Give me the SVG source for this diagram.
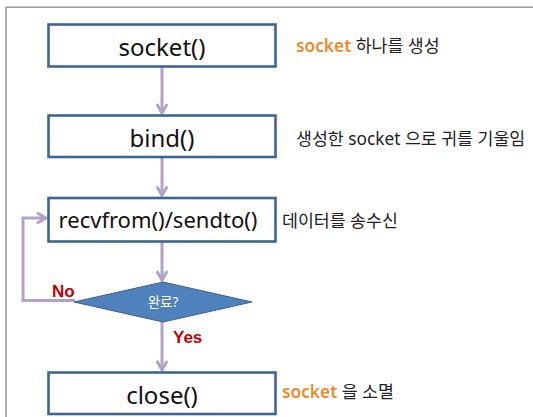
<svg xmlns="http://www.w3.org/2000/svg" width="533" height="417" viewBox="0 0 533 417">
<style>
.frame{fill:none;stroke:#9a9a9a;stroke-width:1.6}
.box{fill:#fff;stroke:#3f6594;stroke-width:2.6}
.btxt{font-family:"Noto Sans","Noto Sans CJK KR",sans-serif;font-size:24px;fill:#111;text-anchor:middle}
.lbl{font-family:"Noto Sans","Noto Sans CJK KR",sans-serif;font-size:17.3px;fill:#222}
.or{fill:#ec8a2c;font-weight:600}
.yn{font-family:"Liberation Sans",Arial,sans-serif;font-size:17px;font-weight:bold;fill:#c00000}
.con{fill:none;stroke:#b3a2c7;stroke-width:3}
.dia{fill:#4f81bd;stroke:#3a6290;stroke-width:1}
.dtxt{font-family:"Noto Sans","Noto Sans CJK KR",sans-serif;font-size:13.5px;fill:#fff;text-anchor:middle}
</style>
<defs>
<marker id="arr" viewBox="0 0 12 12" refX="10" refY="6" markerWidth="12" markerHeight="12" markerUnits="userSpaceOnUse" orient="auto">
<path d="M1,0.8 L10,6 L1,11.2" fill="none" stroke="#b3a2c7" stroke-width="3"/>
</marker>
</defs>
<rect width="533" height="417" fill="#fff"/>
<path class="frame" d="M6,420 V7.3 H540"/>
<g id="connectors">
<line class="con" x1="162" y1="67" x2="162" y2="113" marker-end="url(#arr)"/>
<line class="con" x1="162" y1="157" x2="162" y2="195.5" marker-end="url(#arr)"/>
<line class="con" x1="162" y1="242" x2="162" y2="280" marker-end="url(#arr)"/>
<line class="con" x1="162" y1="322" x2="162" y2="370" marker-end="url(#arr)"/>
<path class="con" d="M75,300.5 H23 V218 H46" marker-end="url(#arr)"/>
<text class="yn" x="52" y="297">No</text>
<text class="yn" x="173" y="343">Yes</text>
</g>
<g id="socket">
<rect class="box" x="48.5" y="24.5" width="227" height="42"/>
<text class="btxt" x="162" y="56">socket()</text>
<text class="lbl" x="296" y="52"><tspan class="or">socket</tspan> 하나를 생성</text>
</g>
<g id="bind">
<rect class="box" x="48.5" y="115.5" width="227" height="41.5"/>
<text class="btxt" x="162" y="146.5">bind()</text>
<text class="lbl" x="296" y="145">생성한 socket 으로 귀를 기울임</text>
</g>
<g id="recvfrom">
<rect class="box" x="48.5" y="198" width="227" height="43.5"/>
<text class="btxt" x="158" y="227.5" style="font-size:22px">recvfrom()/sendto()</text>
<text class="lbl" x="282" y="227">데이터를 송수신</text>
</g>
<g id="decision">
<polygon class="dia" points="74,302 163,282 252,302 163,322"/>
<text class="dtxt" x="163" y="306.5">완료?</text>
</g>
<g id="close">
<rect class="box" x="48.5" y="372.5" width="227" height="41.5"/>
<text class="btxt" x="162" y="403.5">close()</text>
<text class="lbl" x="282" y="398"><tspan class="or">socket</tspan> 을 소멸</text>
</g>
</svg>
